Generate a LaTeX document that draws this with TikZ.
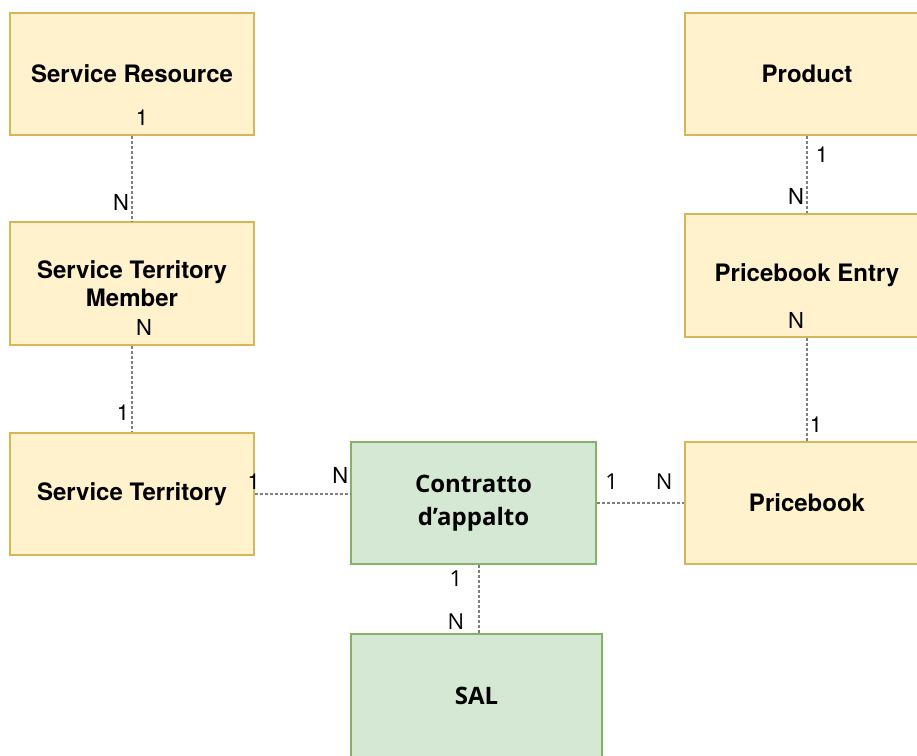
\documentclass[tikz,border=0pt]{standalone}
\usepackage{fontspec}
\newfontfamily\helv{TeX Gyre Heros}
\newfontfamily\osans{Open Sans}
\definecolor{entfill}{HTML}{FFF2CC}
\definecolor{entdraw}{HTML}{D6B656}
\definecolor{ctrfill}{HTML}{D5E8D4}
\definecolor{ctrdraw}{HTML}{82B366}
\definecolor{relgray}{HTML}{808080}

\tikzset{ent/.style={draw=entdraw, fill=entfill, line width=1.5pt, inner sep=0pt, minimum width=244pt, minimum height=122pt, align=center, font=\helv\bfseries\fontsize{24}{28}\selectfont}}
\tikzset{ctr/.style={draw=ctrdraw, fill=ctrfill, line width=1.5pt, inner sep=0pt, minimum width=245pt, minimum height=122pt, align=center, font=\osans\bfseries\fontsize{24}{33}\selectfont}}
\tikzset{rel/.style={draw=relgray, line width=1.2pt, dash pattern=on 3pt off 2pt}}
\tikzset{card/.style={inner sep=0pt, font=\helv\fontsize{22}{24}\selectfont}}
\tikzset{cardo/.style={inner sep=0pt, font=\osans\fontsize{22}{24}\selectfont}}

\begin{document}
\begin{tikzpicture}[]
    \clip (0,0) rectangle (917pt,-755pt);
    \fill[white] (0,0) rectangle (917pt,-755pt);

    \node[ent] (sr) at (132pt,-74pt) {Service Resource};
    \node[ent, minimum height=123pt] (stm) at ([yshift=-209.5pt] sr) {Service Territory\\Member};
    \node[ent] (st) at ([yshift=-420pt] sr) {Service Territory};

    \node[ent] (prod) at ([xshift=675pt] sr) {Product};
    \node[ent, minimum height=123pt] (pbe) at ([yshift=-201.5pt] prod) {Pricebook Entry};
    \node[ent] (pb) at ([yshift=-429pt] prod) {Pricebook};

    \node[ctr] (contratto) at ([xshift=341.5pt, yshift=-429pt] sr) {Contratto\\d’appalto};
    \node[ctr, minimum width=251pt, minimum height=124pt] (sal) at ([xshift=3pt, yshift=-193pt] contratto) {SAL};

    % relations
    \draw[rel] (sr.south) -- (stm.north);
    \draw[rel] (stm.south) -- (st.north);
    \draw[rel] (st.east) -- (st.east -| contratto.west);
    \draw[rel] (contratto.east) -- (pb.west);
    \draw[rel] (prod.south) -- (pbe.north);
    \draw[rel] (pbe.south) -- (pb.north);
    \draw[rel] ([xshift=5.5pt]contratto.south) -- ([xshift=5.5pt]contratto.south |- sal.north);

    % cardinalities
    \node[card] (c_sr) at ([xshift=10pt, yshift=18pt] sr.south) {1};
    \node[card] (c_stm_top) at ([xshift=-11pt, yshift=19pt] stm.north) {N};
    \node[card] (c_stm_bot) at ([xshift=12pt, yshift=18pt] stm.south) {N};
    \node[card] (c_st_top) at ([xshift=-9pt, yshift=20pt] st.north) {1};
    \node[card] (c_st_east) at ([xshift=-1pt, yshift=12pt] st.east) {1};
    \node[card] (c_ctr_west) at ([xshift=-10pt, yshift=28pt] contratto.west) {N};
    \node[cardo] (c_ctr_east) at ([xshift=15pt, yshift=21pt] contratto.east) {1};
    \node[cardo] (c_pb_west) at ([xshift=-20pt, yshift=21pt] pb.west) {N};
    \node[card] (c_prod) at ([xshift=15pt, yshift=-19pt] prod.south) {1};
    \node[card] (c_pbe_top) at ([xshift=-11pt, yshift=17pt] pbe.north) {N};
    \node[card] (c_pbe_bot) at ([xshift=-11pt, yshift=17pt] pbe.south) {N};
    \node[card] (c_pb_top) at ([xshift=9pt, yshift=17pt] pb.north) {1};
    \node[cardo] (c_ctr_south) at ([xshift=-17.5pt, yshift=-14pt] contratto.south) {1};
    \node[cardo] (c_sal) at ([xshift=-20.5pt, yshift=12pt] sal.north) {N};
\end{tikzpicture}
\end{document}
